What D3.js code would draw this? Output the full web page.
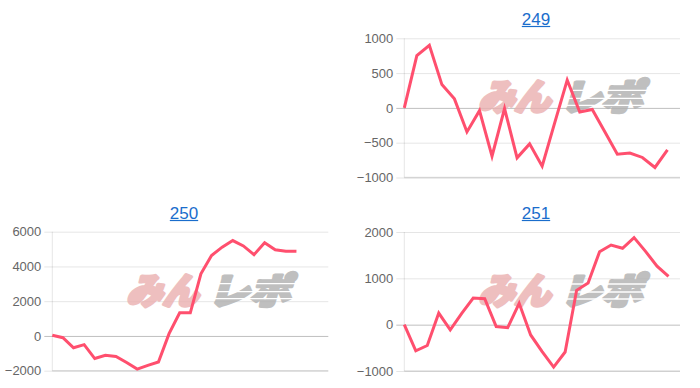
<!DOCTYPE html>
<html><head><meta charset="utf-8">
<script src="https://cdn.jsdelivr.net/npm/d3@7"></script>
<style>
html,body{margin:0;padding:0;background:#fff;}
svg{display:block;}
</style></head>
<body>
<svg id="c" width="700" height="388"></svg>
<script>
// ---- data ----
const titles = ["249", "250", "251"];
const slots249 = d3.range(1, 24);   // 23 categories
const slots250 = d3.range(1, 28);   // 27 categories
const slots251 = d3.range(1, 26);   // 25 categories
const values249 = [0, 750, 900, 335, 130, -345, -40, -694, -10, -718, -517, -837, -215, 400, -58, -22, -342, -665, -648, -712, -856, -602];
const values250 = [40, -100, -680, -500, -1300, -1110, -1180, -1530, -1910, -1690, -1500, 130, 1330, 1330, 3575, 4630, 5110, 5490, 5180, 4680, 5360, 4955, 4880, 4870];
const values251 = [0, -565, -450, 250, -110, 245, 575, 560, -40, -65, 460, -222, -580, -915, -590, 741, 898, 1575, 1718, 1648, 1880, 1582, 1262, 1040];
const ticks249 = [-1000, -500, 0, 500, 1000];
const ticks250 = [-2000, 0, 2000, 4000, 6000];
const ticks251 = [-1000, 0, 1000, 2000];

// ---- layout ----
const panels = [
  {title: titles[0], slots: slots249, values: values249, ticks: ticks249, x0: 404.3, x1: 680, y0: 38.3, y1: 177.5, tx: 536, ty: 25},
  {title: titles[1], slots: slots250, values: values250, ticks: ticks250, x0: 52.3, x1: 328.3, y0: 231.7, y1: 370.7, tx: 184, ty: 219},
  {title: titles[2], slots: slots251, values: values251, ticks: ticks251, x0: 404.3, x1: 680, y0: 232, y1: 371, tx: 536, ty: 219}
];

const svg = d3.select("#c");
const font = "'Liberation Sans', Arial, Helvetica, sans-serif";

panels.forEach(p => {
  const g = svg.append("g");
  const x = d3.scalePoint().domain(p.slots).range([p.x0, p.x1]);
  const ext = d3.extent(p.ticks);
  const y = d3.scaleLinear().domain(ext).range([p.y1, p.y0]);

  // title
  const t = g.append("text")
    .attr("x", p.tx).attr("y", p.ty)
    .attr("text-anchor", "middle")
    .attr("font-family", font).attr("font-size", 17)
    .attr("fill", "#1a6dcc")
    .text(p.title);
  const tw = t.node().getComputedTextLength();
  g.append("line")
    .attr("x1", p.tx - tw / 2).attr("x2", p.tx + tw / 2)
    .attr("y1", p.ty + 1.5).attr("y2", p.ty + 1.5)
    .attr("stroke", "#1a6dcc").attr("stroke-width", 1.2);

  // y axis with gridlines
  const axis = d3.axisLeft(y).tickValues(p.ticks)
    .tickSize(-(p.x1 - p.x0 + 8)).tickPadding(3)
    .tickFormat(d3.format("d"));
  const ag = g.append("g").attr("transform", `translate(${p.x0 - 8},0)`).call(axis);
  ag.select(".domain").remove();
  ag.selectAll(".tick line")
    .attr("stroke", d => d === 0 ? "rgba(0,0,0,0.25)" : "rgba(0,0,0,0.1)")
    .attr("stroke-width", 1);
  ag.selectAll(".tick text")
    .attr("font-family", font).attr("font-size", 13)
    .attr("fill", "#666");
  // left border
  g.append("line")
    .attr("x1", p.x0).attr("x2", p.x0)
    .attr("y1", p.y0).attr("y2", p.y1)
    .attr("stroke", "rgba(0,0,0,0.1)");
  // bottom border
  g.append("line")
    .attr("x1", p.x0).attr("x2", p.x1)
    .attr("y1", p.y1).attr("y2", p.y1)
    .attr("stroke", "rgba(0,0,0,0.12)").attr("stroke-width", 1.5);

  // watermark
  const wx = p.x0 + 64, wy = p.y0 + 72;
  const wm = g.append("g").attr("transform", `translate(${wx},${wy}) skewX(-16)`).attr("opacity", 0.8);
  wm.append("text").attr("x", 10).attr("y", 0)
    .attr("font-family", "'Noto Sans CJK JP', sans-serif").attr("font-weight", 900)
    .attr("font-size", 36).attr("fill", "#eab0b0")
    .attr("stroke", "#eab0b0").attr("stroke-width", 3.5).attr("stroke-linejoin", "round")
    .attr("textLength", 72).attr("lengthAdjust", "spacingAndGlyphs")
    .text("みん");
  wm.append("text").attr("x", 92).attr("y", 0)
    .attr("font-family", "'Noto Sans CJK JP', sans-serif").attr("font-weight", 900)
    .attr("font-size", 36).attr("fill", "#b0b0b0")
    .attr("stroke", "#b0b0b0").attr("stroke-width", 3.5).attr("stroke-linejoin", "round")
    .attr("textLength", 82).attr("lengthAdjust", "spacingAndGlyphs")
    .text("レポ");
  // speed-line gaps through the gray part
  [-20, -12, -5].forEach(dy => {
    wm.append("line").attr("x1", 90).attr("x2", 180).attr("y1", dy).attr("y2", dy)
      .attr("stroke", "#fff").attr("stroke-width", 1.3);
  });

  // line
  const line = d3.line().x((d, i) => x(p.slots[i])).y(d => y(d));
  g.append("path").datum(p.values)
    .attr("d", line)
    .attr("fill", "none")
    .attr("stroke", "#ff4f6e")
    .attr("stroke-width", 3)
    .attr("stroke-linejoin", "miter");
});
</script>
</body></html>
